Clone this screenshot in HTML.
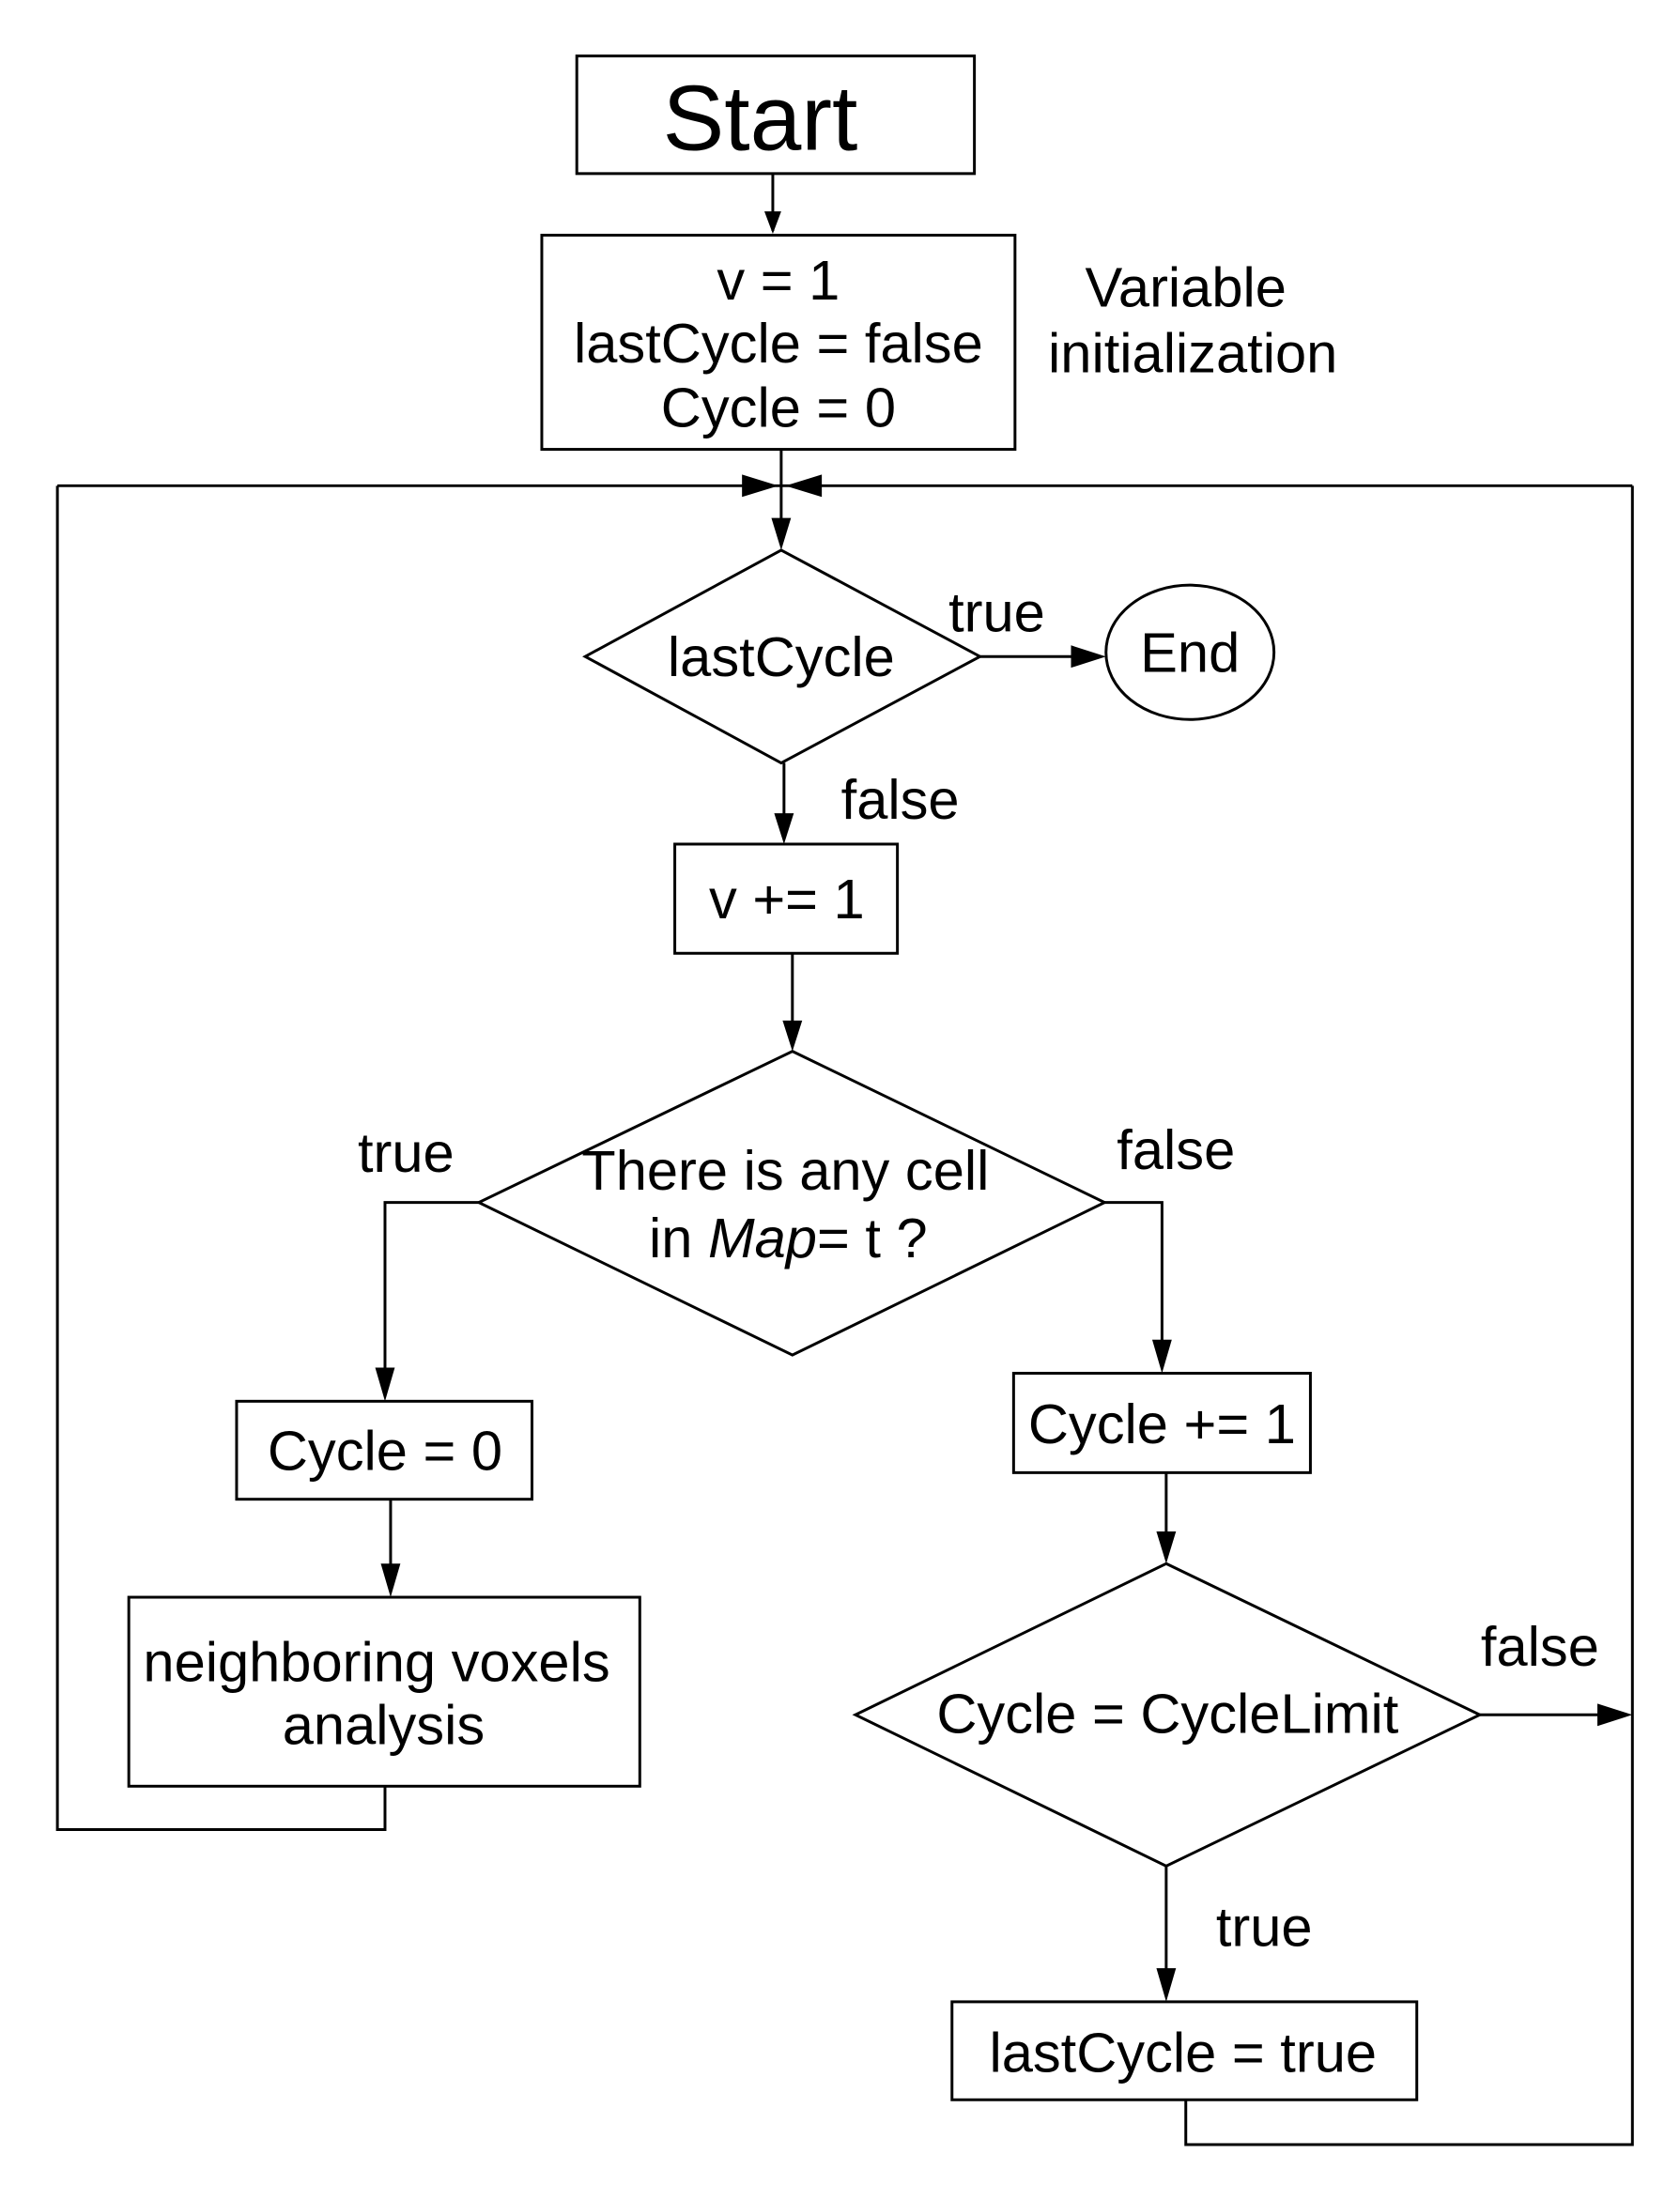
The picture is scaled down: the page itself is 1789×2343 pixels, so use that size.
<!DOCTYPE html>
<html><head><meta charset="utf-8"><style>
html,body{margin:0;padding:0;background:#fff;}
svg{display:block;}
text{font-family:"Liberation Sans",Arial,sans-serif;fill:#000;}
</style></head><body>
<svg width="1789" height="2343" viewBox="0 0 1200 1571.6" preserveAspectRatio="none" xmlns="http://www.w3.org/2000/svg">
<g fill="none" stroke="#000" stroke-width="2">
<rect x="412" y="40" width="284" height="84"/>
<rect x="387" y="168" width="338" height="153"/>
<polyline points="41,347 1166,347"/>
<polyline points="41,347 41,1307 275,1307 275,1276"/>
<polyline points="1166,347 1166,1532 847,1532 847,1500"/>
<line x1="558" y1="321" x2="558" y2="375"/>
<polygon points="558,393 700,469 558,545 418,469"/>
<line x1="700" y1="469" x2="770" y2="469"/>
<ellipse cx="850" cy="466" rx="60" ry="48"/>
<line x1="560" y1="545" x2="560" y2="585"/>
<rect x="482" y="603" width="159" height="78"/>
<line x1="566" y1="681" x2="566" y2="733"/>
<polygon points="566,751 789,859 566,968 342,859"/>
<polyline points="342,859 275,859 275,982"/>
<polyline points="789,859 830,859 830,962"/>
<rect x="169" y="1001" width="211" height="70"/>
<line x1="279" y1="1071" x2="279" y2="1123"/>
<rect x="92" y="1141" width="365" height="135"/>
<rect x="724" y="981" width="212" height="71"/>
<line x1="833" y1="1052" x2="833" y2="1099"/>
<polygon points="833,1117 1057,1225 833,1333 611,1225"/>
<line x1="1057" y1="1225" x2="1146" y2="1225"/>
<line x1="833" y1="1333" x2="833" y2="1412"/>
<rect x="680" y="1430" width="332" height="70"/>
<line x1="552" y1="124" x2="552" y2="165"/>
</g>
<g fill="#000" stroke="none">
<polygon points="552,167 546,151 558,151"/>
<polygon points="556,347 530,339 530,355"/>
<polygon points="561,347 587,339 587,355"/>
<polygon points="558,393 551,370 565,370"/>
<polygon points="790,469 765,461 765,477"/>
<polygon points="560,603 553,581 567,581"/>
<polygon points="566,751 559,729 573,729"/>
<polygon points="275,1001 268,977 282,977"/>
<polygon points="830,981 823,957 837,957"/>
<polygon points="279,1141 272,1117 286,1117"/>
<polygon points="833,1117 826,1094 840,1094"/>
<polygon points="1166,1225 1141,1217 1141,1233"/>
<polygon points="833,1430 826,1406 840,1406"/>
</g>
<g font-size="40" text-anchor="middle">
<text x="543" y="107" font-size="66">Start</text>
<text x="556" y="214">v = 1</text>
<text x="556" y="259">lastCycle = false</text>
<text x="556" y="305">Cycle = 0</text>
<text x="847" y="219">Variable</text>
<text x="852" y="266">initialization</text>
<text x="558" y="483">lastCycle</text>
<text x="712" y="451">true</text>
<text x="850" y="480">End</text>
<text x="643" y="585">false</text>
<text x="562" y="656">v += 1</text>
<text x="561" y="850">There is any cell</text>
<text x="563" y="898">in <tspan font-style="italic">Map</tspan>= t ?</text>
<text x="290" y="837">true</text>
<text x="840" y="835">false</text>
<text x="275" y="1050">Cycle = 0</text>
<text x="269" y="1201">neighboring voxels</text>
<text x="274" y="1246">analysis</text>
<text x="830" y="1031">Cycle += 1</text>
<text x="834" y="1238">Cycle = CycleLimit</text>
<text x="1100" y="1190">false</text>
<text x="903" y="1390">true</text>
<text x="845" y="1480">lastCycle = true</text>
</g>
</svg>
</body></html>
